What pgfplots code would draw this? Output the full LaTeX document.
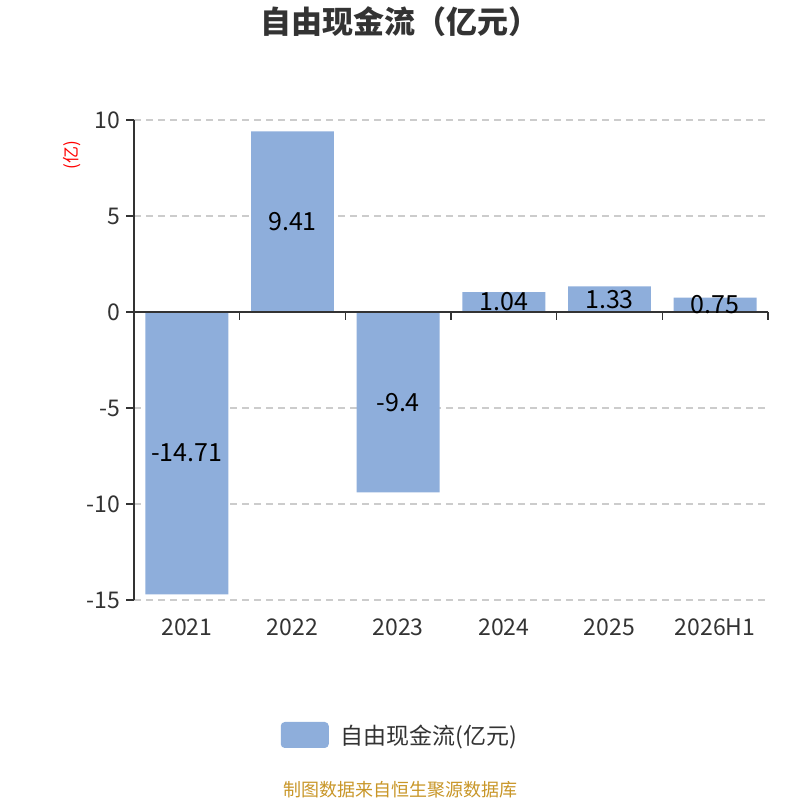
\documentclass[border=0pt]{standalone}
\usepackage{pgfplots}
\pgfplotsset{compat=1.18}
\usepackage{fontspec}
\setmainfont{Noto Sans CJK SC}
\definecolor{barblue}{RGB}{142,174,219}
\definecolor{txt}{RGB}{51,51,51}
\definecolor{gridc}{RGB}{204,204,204}
\definecolor{gold}{RGB}{200,150,40}
\begin{document}
\begin{tikzpicture}[x=1bp,y=1bp]
\useasboundingbox (0,0) rectangle (800,800);
\begin{axis}[
  at={(134bp,200bp)}, anchor=south west,
  width=634bp, height=480bp, scale only axis,
  xmin=-0.5, xmax=5.5, ymin=-15, ymax=10,
  axis y line=left, axis x line=bottom,
  axis line style={-},
  x axis line style={draw=none},
  y axis line style={draw=txt, line width=1.5bp},
  xtick={0,1,2,3,4,5},
  xticklabels={2021,2022,2023,2024,2025,2026H1},
  ytick={-15,-10,-5,0,5,10},
  major x tick style={draw=none},
  major y tick style={draw=txt, line width=1.5bp},
  tick align=outside, major tick length=8bp,
  ymajorgrids, grid style={gridc, line width=1.2bp, dash pattern=on 7bp off 5bp},
  ticklabel style={font=\fontsize{23bp}{27bp}\selectfont, text=txt},
  /pgf/number format/assume math mode=true,
  xticklabel style={yshift=-7bp},
  yticklabel style={xshift=-2bp},
  legend style={at={(0.4196,-0.28125)}, anchor=center, draw=none, fill=none,
    font=\fontsize{23bp}{27bp}\selectfont, text=txt},
  legend image code/.code={\fill[barblue, rounded corners=4bp] (0bp,-13bp) rectangle (48bp,13bp); \path (58bp,0bp);},
  clip=false,
]
\addplot[ybar, bar width=0.785, fill=barblue, draw=none, bar shift=0pt] coordinates {
  (0,-14.71) (1,9.41) (2,-9.4) (3,1.04) (4,1.33) (5,0.75)
};
\addlegendentry{自由现金流(亿元)}
\addplot[draw=none, mark=none, forget plot, nodes near coords, point meta=explicit symbolic,
  every node near coord/.append style={anchor=center, font=\fontsize{25bp}{29bp}\selectfont, text=black}]
  coordinates {
  (0,-7.355)[-14.71] (1,4.705)[9.41] (2,-4.7)[-9.4] (3,0.52)[1.04] (4,0.665)[1.33] (5,0.375)[0.75]
};
\draw[txt, line width=1.5bp] (axis cs:-0.5,0) -- (axis cs:5.5,0);
\pgfplotsinvokeforeach{0.5,1.5,2.5,3.5,4.5,5.5}{
  \draw[txt, line width=1.5bp] (axis cs:#1,0) -- ([yshift=-8bp]axis cs:#1,0);
}
\end{axis}
\node[font=\bfseries\fontsize{31bp}{35bp}\selectfont, text=txt] at (400,778) {自由现金流（亿元）};
\node[font=\fontsize{17bp}{19bp}\selectfont, text=red, rotate=90] at (72,645) {(亿)};
\node[font=\fontsize{18bp}{20bp}\selectfont, text=gold] at (400,10) {制图数据来自恒生聚源数据库};
\end{tikzpicture}
\end{document}
